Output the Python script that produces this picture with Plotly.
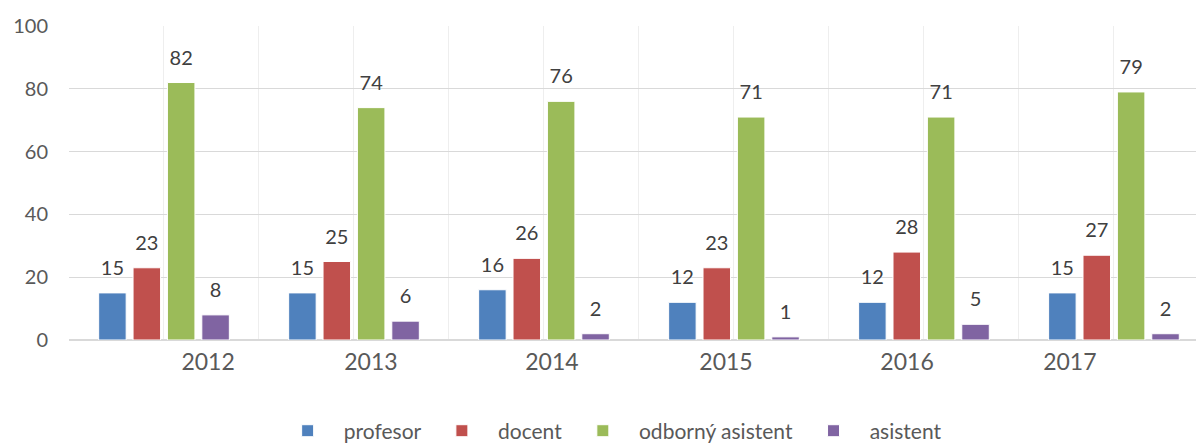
import plotly.graph_objects as go

years = ["2012", "2013", "2014", "2015", "2016", "2017"]
series_names = ["profesor", "docent", "odborný asistent", "asistent"]
profesor = [15, 15, 16, 12, 12, 15]
docent = [23, 25, 26, 23, 28, 27]
odborny_asistent = [82, 74, 76, 71, 71, 79]
asistent = [8, 6, 2, 1, 5, 2]
colors = ["#4F81BD", "#C0504D", "#9BBB59", "#8064A2"]

values = [profesor, docent, odborny_asistent, asistent]
xpos = list(range(len(years)))

# category label placement (as drawn in the original chart, in category units)
label_pos = [0.232, 1.089, 2.042, 2.958, 3.911, 4.768]

FONT = "Lato"
NB = "\u00a0"
fig = go.Figure()
for name, vals, col in zip(series_names, values, colors):
    fig.add_trace(go.Bar(
        x=xpos, y=vals, name=NB * 3 + name + NB * 3, offsetgroup=name,
        marker=dict(color=col, line=dict(color="white", width=1)),
        hoverinfo="skip",
    ))
for name, vals, col in zip(series_names, values, colors):
    fig.add_trace(go.Scatter(
        x=xpos, y=vals, mode="markers+text", offsetgroup=name,
        text=[str(v) for v in vals], textposition="top center",
        textfont=dict(family=FONT, size=20, color="#404040"),
        marker=dict(size=19, color="rgba(0,0,0,0)"),
        showlegend=False, hoverinfo="skip", cliponaxis=False,
    ))

half_ticks = [i * 0.5 - 0.5 for i in range(2 * len(years) + 1)]

fig.update_layout(
    width=1196, height=435,
    margin=dict(l=61, r=0, t=18, b=103, autoexpand=False),
    paper_bgcolor="white", plot_bgcolor="white",
    barmode="group", bargap=0.276, bargroupgap=0.2,
    scattermode="group", scattergap=0.276,
    showlegend=True,
    legend=dict(orientation="h", x=0.49, xanchor="center", y=-0.29, yanchor="middle",
                font=dict(family=FONT, size=21, color="#595959"),
                itemwidth=30, traceorder="normal"),
    xaxis=dict(
        automargin=False,
        range=[-0.5, 5.474], tickmode="array", tickvals=label_pos, ticktext=years,
        ticklabelstandoff=6,
        tickfont=dict(family=FONT, size=23, color="#595959"),
        showgrid=False, zeroline=False, showline=False, ticks="",
        minor=dict(tickmode="array", tickvals=half_ticks, showgrid=True,
                   gridcolor="#EEEEEE", gridwidth=1.3, ticks=""),
    ),
    yaxis=dict(
        automargin=False,
        range=[0, 100], tickmode="array", tickvals=[0, 20, 40, 60, 80, 100],
        tickfont=dict(family=FONT, size=20, color="#595959"),
        showgrid=True, gridcolor="#D9D9D9", gridwidth=1.3,
        zeroline=True, zerolinecolor="#D9D9D9", zerolinewidth=1.5,
        ticks="", ticklabelstandoff=20, showline=False,
    ),
)

fig.write_html("out.html")
